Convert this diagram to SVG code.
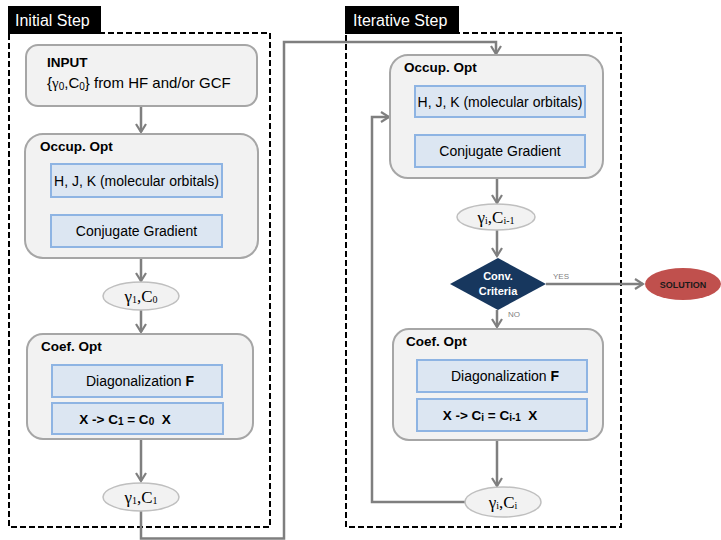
<svg xmlns="http://www.w3.org/2000/svg" width="721" height="540" viewBox="0 0 721 540">
<defs>
<marker id="arr" viewBox="0 0 12 12" refX="10" refY="6" markerWidth="12" markerHeight="12" markerUnits="userSpaceOnUse" orient="auto">
<path d="M2,1 L10,6 L2,11" fill="none" stroke="#7f7f7f" stroke-width="2.2"/>
</marker>
<style>
text{font-family:"Liberation Sans",Arial,sans-serif;fill:#000}
.panel{fill:none;stroke:#000;stroke-width:2;stroke-dasharray:6 3}
.hdr{fill:#000}
.hdrt{fill:#fff;font-size:16px}
.box{fill:#f2f2f2;stroke:#a6a6a6;stroke-width:2}
.inner{fill:#dce6f2;stroke:#8eb4e3;stroke-width:2}
.ell{fill:#f2f2f2;stroke:#bfbfbf;stroke-width:1.5}
.title{font-size:13.5px;font-weight:bold}
.it{font-size:14px;text-anchor:middle}
.eq{font-size:13.5px;font-weight:bold;text-anchor:middle}
.et{font-size:17px;text-anchor:middle;font-family:"Liberation Serif",serif}
.sub{font-size:10px}
.conn{fill:none;stroke:#7f7f7f;stroke-width:2.5}
.lbl{font-size:8px;fill:#7f7f7f}
</style>
</defs>

<g id="panel-initial">
<rect class="panel" x="9" y="33" width="261" height="494"/>
<rect class="hdr" x="8" y="6" width="93" height="28"/>
<text class="hdrt" x="15" y="26">Initial Step</text>
</g>
<g id="panel-iterative">
<rect class="panel" x="346" y="33" width="275" height="494"/>
<rect class="hdr" x="345" y="6" width="114" height="28"/>
<text class="hdrt" x="353" y="26">Iterative Step</text>
</g>

<g id="connectors">
<path class="conn" d="M141,106 V132" marker-end="url(#arr)"/>
<path class="conn" d="M141,258 V281" marker-end="url(#arr)"/>
<path class="conn" d="M141,310 V332" marker-end="url(#arr)"/>
<path class="conn" d="M141,439 V481" marker-end="url(#arr)"/>
<path class="conn" d="M141,511 V538.5 H284 V42 H496 V54" marker-end="url(#arr)"/>
<path class="conn" d="M497,178 V203" marker-end="url(#arr)"/>
<path class="conn" d="M497,230 V256" marker-end="url(#arr)"/>
<path class="conn" d="M546,284 H643" marker-end="url(#arr)"/>
<text class="lbl" x="553" y="279">YES</text>
<path class="conn" d="M497,310 V327" marker-end="url(#arr)"/>
<text class="lbl" x="508" y="317">NO</text>
<path class="conn" d="M497,440 V486" marker-end="url(#arr)"/>
<path class="conn" d="M465,502 H372 V117 H389" marker-end="url(#arr)"/>
</g>

<g id="input">
<rect class="box" x="26" y="45" width="231" height="61" rx="12"/>
<text class="title" x="47" y="67">INPUT</text>
<text x="47" y="88" style="font-size:15px">{<tspan font-family="Liberation Serif">γ</tspan><tspan class="sub" dy="2">0</tspan><tspan dy="-2">,C</tspan><tspan class="sub" dy="2">0</tspan><tspan dy="-2">} from HF and/or GCF</tspan></text>
</g>

<g id="occup-init">
<rect class="box" x="25" y="134" width="233" height="124" rx="18"/>
<text class="title" x="40" y="151">Occup. Opt</text>
<rect class="inner" x="51" y="164" width="171" height="33"/>
<text class="it" x="136.5" y="185.5">H, J, K (molecular orbitals)</text>
<rect class="inner" x="51" y="215" width="171" height="32"/>
<text class="it" x="136.5" y="236">Conjugate Gradient</text>
</g>

<g id="gamma1-c0">
<ellipse class="ell" cx="141" cy="296" rx="38" ry="14"/>
<text class="et" x="141" y="302">γ<tspan class="sub" dy="1">1</tspan><tspan dy="-1">,C</tspan><tspan class="sub" dy="1">0</tspan></text>
</g>

<g id="coef-init">
<rect class="box" x="27" y="334" width="226" height="105" rx="16"/>
<text class="title" x="41" y="351">Coef. Opt</text>
<rect class="inner" x="52" y="365" width="170" height="32"/>
<text class="it" x="140" y="386">Diagonalization <tspan font-weight="bold">F</tspan></text>
<rect class="inner" x="52" y="403" width="171" height="31"/>
<text class="eq" x="125" y="424">X -&gt; C<tspan class="sub" dy="1">1</tspan><tspan dy="-1"> = C</tspan><tspan class="sub" dy="1">0</tspan><tspan dy="-1">&#160; X</tspan></text>
</g>

<g id="gamma1-c1">
<ellipse class="ell" cx="141" cy="497" rx="38" ry="14"/>
<text class="et" x="141" y="503">γ<tspan class="sub" dy="1">1</tspan><tspan dy="-1">,C</tspan><tspan class="sub" dy="1">1</tspan></text>
</g>

<g id="occup-iter">
<rect class="box" x="390" y="55" width="213" height="123" rx="18"/>
<text class="title" x="404" y="72">Occup. Opt</text>
<rect class="inner" x="415" y="86" width="170" height="31"/>
<text class="it" x="500" y="106.5">H, J, K (molecular orbitals)</text>
<rect class="inner" x="415" y="135" width="170" height="32"/>
<text class="it" x="500" y="156">Conjugate Gradient</text>
</g>

<g id="gammai-ci-1">
<ellipse class="ell" cx="496" cy="217" rx="39" ry="13"/>
<text class="et" x="496" y="223">γ<tspan class="sub" dy="1">i</tspan><tspan dy="-1">,C</tspan><tspan class="sub" dy="1">i-1</tspan></text>
</g>

<g id="conv-criteria">
<polygon points="498,258 546,284 498,310 450,284" fill="#17375e"/>
<text x="498" y="280" style="font-size:11px;font-weight:bold;fill:#fff;text-anchor:middle">Conv.</text>
<text x="498" y="295" style="font-size:11px;font-weight:bold;fill:#fff;text-anchor:middle">Criteria</text>
</g>

<g id="solution">
<ellipse cx="683" cy="284" rx="38" ry="16" fill="#c0504d"/>
<text x="683" y="287.5" style="font-size:9px;font-weight:bold;text-anchor:middle;fill:#1a1a1a">SOLUTION</text>
</g>

<g id="coef-iter">
<rect class="box" x="393" y="329" width="210" height="111" rx="16"/>
<text class="title" x="406" y="346">Coef. Opt</text>
<rect class="inner" x="417" y="360" width="170" height="32"/>
<text class="it" x="505" y="381">Diagonalization <tspan font-weight="bold">F</tspan></text>
<rect class="inner" x="417" y="399" width="170" height="32"/>
<text class="eq" x="490" y="420">X -&gt; C<tspan class="sub" dy="1">i</tspan><tspan dy="-1"> = C</tspan><tspan class="sub" dy="1">i-1</tspan><tspan dy="-1">&#160; X</tspan></text>
</g>

<g id="gammai-ci">
<ellipse class="ell" cx="503" cy="502" rx="38" ry="15"/>
<text class="et" x="503" y="508">γ<tspan class="sub" dy="1">i</tspan><tspan dy="-1">,C</tspan><tspan class="sub" dy="1">i</tspan></text>
</g>
</svg>
